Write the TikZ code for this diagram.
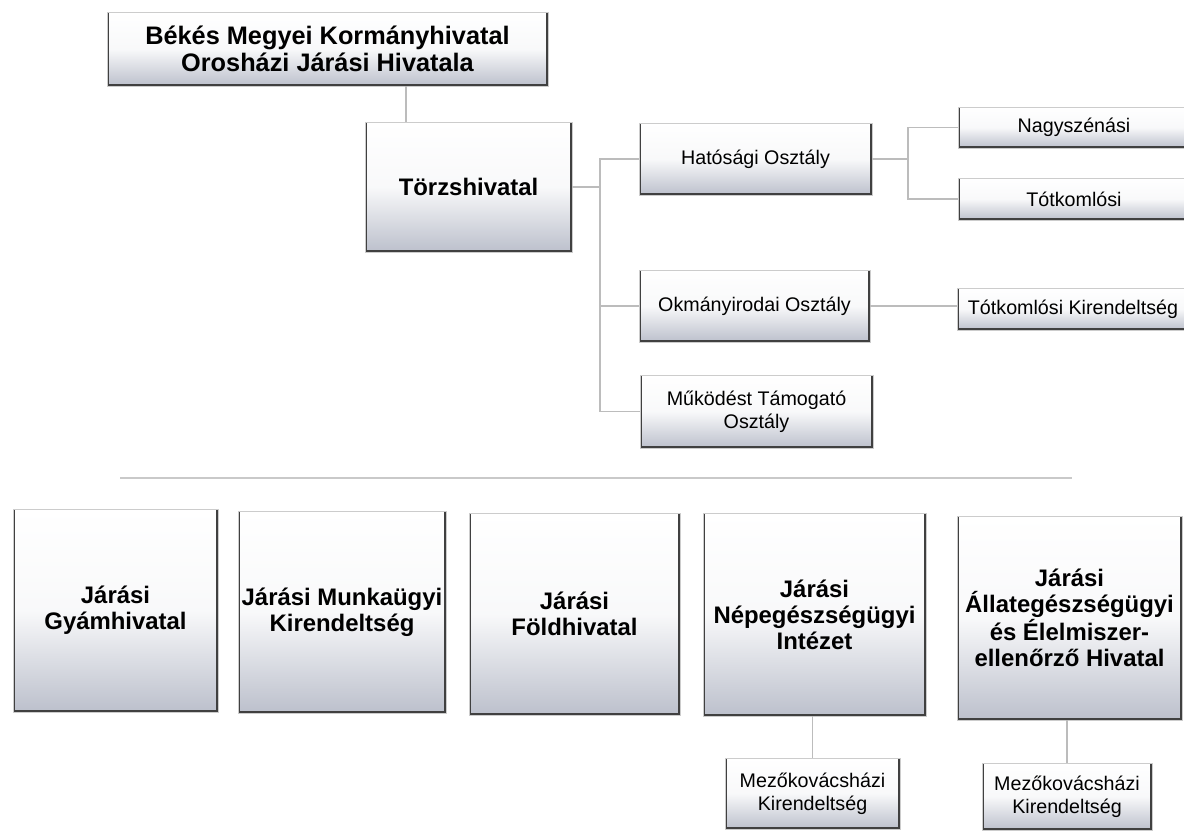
\documentclass[tikz,border=0pt]{standalone}
\usepackage{fontspec}
\setmainfont{Liberation Sans}
\usetikzlibrary{calc}
\definecolor{boxshade}{RGB}{188,192,204}
\definecolor{linkgray}{RGB}{188,188,188}

\begin{document}
\begin{tikzpicture}[x=0.025cm,y=-0.025cm]
  % one unit is one pixel of the scanned chart, y grows downwards
  \newcommand\PixelUnit{0.025cm}
  \tikzset{
    unit/.style={align=center, inner sep=0pt, draw=black!20, line width=0.6pt,
      top color=white, bottom color=boxshade, middle color=white!90!boxshade,
      % dark edges left, right and bottom, the top edge stays pale
      path picture={\draw[black!75,line width=2.2pt]
        (path picture bounding box.north west) -- (path picture bounding box.south west)
        -- (path picture bounding box.south east) -- (path picture bounding box.north east);}},
    boxsize/.style 2 args={minimum width=#1*\PixelUnit, minimum height=#2*\PixelUnit},
    big/.style={unit, font=\fontsize{17}{18.5}\selectfont\bfseries},
    small/.style={unit, font=\fontsize{14}{16.5}\selectfont},
    conn/.style={draw=linkgray, line width=1.4pt}
  }
  \useasboundingbox (0,0) rectangle (1184,830);
  \fill[white] (0,0) rectangle (1184,830);

  % head office and the Törzshivatal
  \node[unit, boxsize={441}{74}, font=\fontsize{18}{19.5}\selectfont\bfseries]
    (hivatal) at (327.5,49) {Békés Megyei Kormányhivatal\\Orosházi Járási Hivatala};
  \node[unit, boxsize={207}{130}, font=\fontsize{17}{18}\selectfont\bfseries]
    (torzs) at (468.5,187) {Törzshivatal};

  % departments
  \node[small, boxsize={233}{72}] (hatosagi) at (755.5,159) {Hatósági Osztály};
  \node[small, boxsize={231}{72}] (okmany) at (754.5,306) {Okmányirodai Osztály};
  \node[small, boxsize={233}{73}] (mukodes) at (756.5,411.5) {Működést Támogató\\Osztály};

  % branch offices on the right, cut by the page edge
  \node[small, boxsize={232}{41}] (nagy) at (1074,127.5) {Nagyszénási};
  \node[small, boxsize={232}{42}] (totk) at (1074,199) {Tótkomlósi};
  \node[small, boxsize={232}{42}] (totkk) at (1073,309) {Tótkomlósi Kirendeltség};

  % district offices in the lower row
  \node[big, boxsize={205}{203}] (gyam) at (115.5,610.5) {Járási\\Gyámhivatal};
  \node[big, boxsize={208}{202}] (munka) at (342,612) {Járási Munkaügyi\\Kirendeltség};
  \node[big, boxsize={211}{202}] (fold) at (574.5,614) {Járási\\Földhivatal};
  \node[big, boxsize={223}{203}] (nepeg) at (814.5,614.5) {Járási\\Népegészségügyi\\Intézet};
  \node[big, boxsize={225}{204}] (allat) at (1069.5,618)
    {Járási\\Állategészségügyi\\és Élelmiszer-\\ellenőrző Hivatal};
  \node[small, boxsize={175}{71}] (mezo1) at (812.5,793.5) {Mezőkovácsházi\\Kirendeltség};
  \node[small, boxsize={170}{67}] (mezo2) at (1067,796.5) {Mezőkovácsházi\\Kirendeltség};

  % connectors
  \draw[conn] ($(torzs.north west)!0.2!(torzs.north east)$) coordinate (tj)
    -- (tj |- hivatal.south);
  \draw[conn] (torzs.east) -- ++(28,0) coordinate (ta);
  \draw[conn] (hatosagi.west) -- (ta |- hatosagi.west) -- (ta |- mukodes.west)
    -- (mukodes.west);
  \draw[conn] (ta |- okmany.west) -- (okmany.west);
  \draw[conn] (hatosagi.east) -- ++(36,0) coordinate (hb);
  \draw[conn] (nagy.west) -- (hb |- nagy.west) -- (hb |- totk.west) -- (totk.west);
  \draw[conn] (okmany.east) -- (okmany.east -| totkk.west);
  \draw[conn] (nepeg.south -| mezo1.north) -- (mezo1.north);
  \draw[conn] (allat.south -| mezo2.north) -- (mezo2.north);

  % separator above the lower row
  \coordinate (sepL) at (120,478);
  \coordinate (sepR) at (1072,478);
  \draw[conn, draw=linkgray!80] (sepL) -- (sepR);
\end{tikzpicture}
\end{document}
